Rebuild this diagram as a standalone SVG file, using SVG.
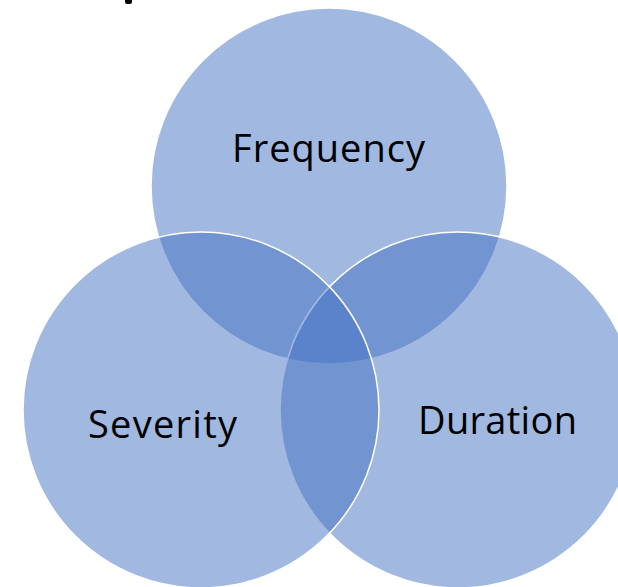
<svg xmlns="http://www.w3.org/2000/svg" width="618" height="587" viewBox="0 0 618 587">
  <style>
    .set { fill: #4472C4; fill-opacity: 0.5; stroke: #FFFFFF; stroke-width: 1.5; }
    .label { font-family: "Open Sans", "Liberation Sans", sans-serif; font-size: 38px; fill: #000000; }
  </style>
  <rect width="618" height="587" fill="#FFFFFF"/>
  <rect x="125" y="-4" width="7" height="8" rx="2" fill="#000000"/>
  <g id="frequency">
    <circle class="set" cx="329" cy="186" r="178"/>
    <text class="label" x="232" y="162" textLength="193">Frequency</text>
  </g>
  <g id="duration">
    <circle class="set" cx="458" cy="410" r="178"/>
  </g>
  <g id="severity">
    <circle class="set" cx="201" cy="410" r="178"/>
  </g>
  <g id="labels">
    <text class="label" x="88" y="438" textLength="149">Severity</text>
    <text class="label" x="418" y="434" textLength="159">Duration</text>
  </g>
  <g id="connectors"/>
</svg>
